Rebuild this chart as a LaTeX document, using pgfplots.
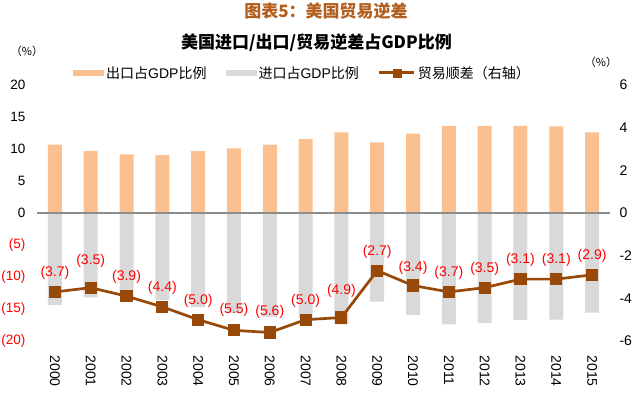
\documentclass[border=0pt]{standalone}
\usepackage{pgfplots}
\pgfplotsset{compat=1.18}
\usepackage{pgfplotstable}
\usepackage{fontspec}
\setmainfont{Liberation Sans}
\newfontfamily\cjk{Noto Sans CJK SC}
\definecolor{expc}{HTML}{FAC090}
\definecolor{impc}{HTML}{D9D9D9}
\definecolor{balc}{HTML}{984807}
\definecolor{titc}{HTML}{B35E1E}
\definecolor{zeroc}{HTML}{8C8C8C}

\pgfplotstableread{
x exp imp bal label dy
0 10.7 -14.4 -3.7 (3.7) 19
1 9.7 -13.2 -3.5 (3.5) 27
2 9.15 -13.1 -3.9 (3.9) 19
3 9.05 -13.6 -4.4 (4.4) 19
4 9.65 -14.7 -5.0 (5.0) 19
5 10.1 -15.6 -5.5 (5.5) 20
6 10.7 -16.2 -5.6 (5.6) 21
7 11.55 -16.5 -5.0 (5.0) 19
8 12.6 -17.4 -4.9 (4.9) 27
9 11.05 -13.85 -2.7 (2.7) 19
10 12.4 -15.9 -3.4 (3.4) 18
11 13.6 -17.4 -3.7 (3.7) 19
12 13.6 -17.2 -3.5 (3.5) 19
13 13.6 -16.7 -3.1 (3.1) 19
14 13.55 -16.65 -3.1 (3.1) 19
15 12.6 -15.55 -2.9 (2.9) 19
}\data

\begin{document}
\begin{tikzpicture}
\useasboundingbox (0pt,0pt) rectangle (640pt,392pt);
\node[font=\cjk\bfseries\fontsize{17pt}{20pt}\selectfont, text=titc] at (326pt,380.5pt) {图表5：美国贸易逆差};
\node[font=\cjk\bfseries\fontsize{17pt}{20pt}\selectfont] at (316.5pt,349pt) {美国进口/出口/贸易逆差占GDP比例};
\node[font=\cjk\fontsize{11pt}{13pt}\selectfont] at (27pt,341pt) {（\%）};
\node[font=\cjk\fontsize{11pt}{13pt}\selectfont] at (601pt,330pt) {（\%）};

\begin{axis}[
  at={(37pt,51pt)}, anchor=south west, scale only axis,
  width=573pt, height=256pt,
  xmin=-0.5, xmax=15.5, ymin=-20, ymax=20,
  axis line style={draw=none}, major tick length=0pt,
  xtick={0,1,2,3,4,5,6,7,8,9,10,11,12,13,14,15},
  xticklabels={2000,2001,2002,2003,2004,2005,2006,2007,2008,2009,2010,2011,2012,2013,2014,2015},
  xticklabel style={font=\fontsize{14pt}{14pt}\selectfont, rotate=-90, anchor=west, xshift=11pt},
  ytick={-20,-15,-10,-5,0,5,10,15,20},
  yticklabels={{\color{red}(20)},{\color{red}(15)},{\color{red}(10)},{\color{red}(5)},0,5,10,15,20},
  yticklabel style={font=\fontsize{13.5pt}{14pt}\selectfont, xshift=-8pt},
  legend columns=3,
  legend style={at={(0.0628,1.047)}, anchor=west, draw=none, fill=none, inner sep=0pt,
    font=\fontsize{14pt}{15pt}\selectfont,
    /tikz/every even column/.append style={column sep=17pt}},
  legend cell align=left,
]
\addplot[ybar, bar width=14pt, bar shift=0pt, fill=expc, draw=none,
  legend image code/.code={\fill[expc] (0pt,-3pt) rectangle (31pt,3pt);}]
  table[x=x, y=exp]{\data};
\addlegendentry{{\cjk 出口占}GDP{\cjk 比例}}
\addplot[ybar, bar width=14pt, bar shift=0pt, fill=impc, draw=none,
  legend image code/.code={\fill[impc] (0pt,-3pt) rectangle (31pt,3pt);}]
  table[x=x, y=imp]{\data};
\addlegendentry{{\cjk 进口占}GDP{\cjk 比例}}
\addlegendimage{legend image code/.code={\draw[balc, line width=3pt] (0pt,0pt) -- (35pt,0pt); \fill[balc] (13.5pt,-4pt) rectangle (21.5pt,4pt);}}
\addlegendentry{{\cjk 贸易顺差（右轴）}}
\draw[color=zeroc, line width=1.2pt] (axis cs:-0.5,0) -- (axis cs:15.5,0);
\end{axis}

\begin{axis}[
  at={(37pt,51pt)}, anchor=south west, scale only axis,
  width=573pt, height=256pt,
  xmin=-0.5, xmax=15.5, ymin=-6, ymax=6,
  axis line style={draw=none}, major tick length=0pt,
  xtick=\empty,
  ytick={-6,-4,-2,0,2,4,6},
  yticklabels={-6,-4,-2,0,2,4,6},
  yticklabel pos=right,
  yticklabel style={font=\fontsize{14pt}{14pt}\selectfont, xshift=6pt},
]
\addplot[balc, line width=2.7pt, mark=square*, mark size=4.7pt, mark options={solid},
  visualization depends on={\thisrow{dy} \as \labdy},
  nodes near coords, point meta=explicit symbolic,
  nodes near coords style={anchor=center, yshift=\labdy, text=red, font=\fontsize{14pt}{14pt}\selectfont}]
  table[x=x, y=bal, meta=label]{\data};
\end{axis}
\end{tikzpicture}
\end{document}
